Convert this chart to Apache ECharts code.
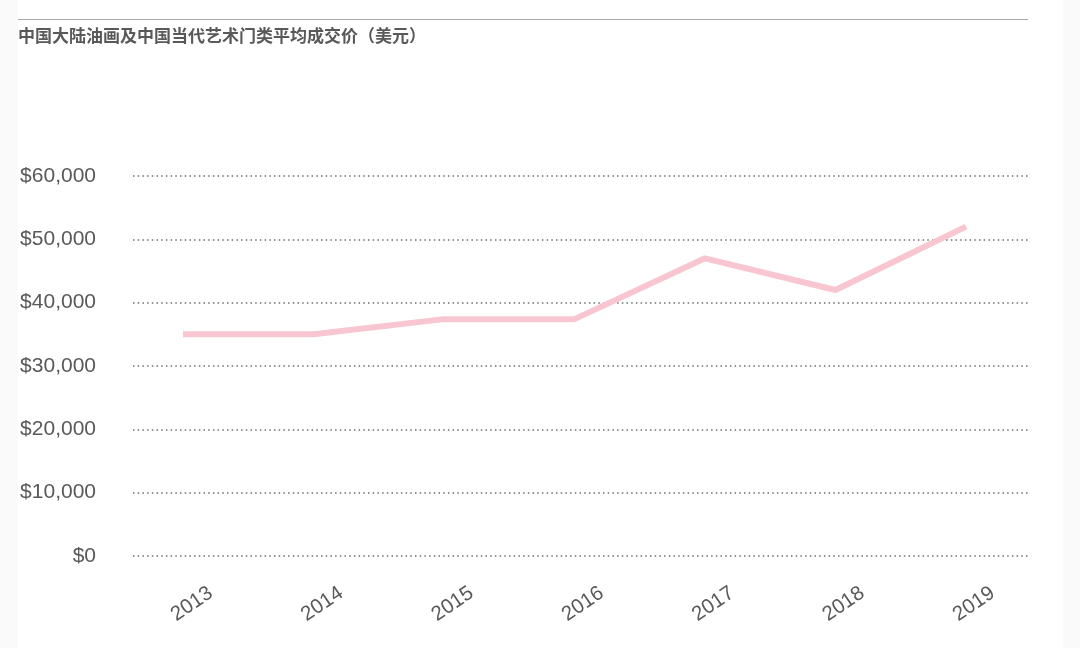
<!DOCTYPE html>
<html>
<head>
<meta charset="utf-8">
<script src="https://cdn.jsdelivr.net/npm/echarts@6/dist/echarts.min.js"></script>
<style>
html,body{margin:0;padding:0;background:#fafafa;}
#main{width:1080px;height:648px;}
</style>
</head>
<body>
<div id="main"></div>
<script>
const titleText = '中国大陆油画及中国当代艺术门类平均成交价（美元）';
const years = ['2013','2014','2015','2016','2017','2018','2019'];
const avgPrice = [35000, 35000, 37400, 37400, 47000, 42000, 52000];
const yTicks = [0, 10000, 20000, 30000, 40000, 50000, 60000];

const chart = echarts.init(document.getElementById('main'));
const yMin = yTicks[0], yMax = yTicks[yTicks.length - 1], yStep = yTicks[1] - yTicks[0];
const gridTop = 176, gridBottom = 648 - 556;

const option = {
  backgroundColor: 'transparent',
  animation: false,
  graphic: [
    { type: 'rect', z: -10, shape: { x: 18, y: 0, width: 1045, height: 648 }, style: { fill: '#ffffff' } },
    { type: 'line', shape: { x1: 18, y1: 19.5, x2: 1028, y2: 19.5 }, style: { stroke: '#a8a8a8', lineWidth: 1.2 } },
    { type: 'text', left: 18, top: 27, style: { text: titleText, fill: '#595959', font: 'bold 17px "Noto Sans CJK SC", sans-serif' } }
  ],
  grid: [
    { left: 133, right: 1080 - 1028, top: gridTop, bottom: gridBottom },
    { left: 183, right: 1080 - 966, top: gridTop, bottom: gridBottom },
    { left: 192, right: 1080 - 974, top: gridTop, bottom: gridBottom }
  ],
  xAxis: [
    { type: 'category', gridIndex: 0, data: years, show: false },
    { type: 'category', gridIndex: 1, data: years, boundaryGap: false, show: false },
    {
      type: 'category', gridIndex: 2, data: years, boundaryGap: false,
      axisLine: { show: false }, axisTick: { show: false },
      axisLabel: {
        rotate: 34, align: 'center', verticalAlign: 'middle', margin: 48,
        color: '#595959', fontSize: 20.5, fontFamily: 'Liberation Sans, Arial, sans-serif'
      }
    }
  ],
  yAxis: [
    {
      type: 'value', gridIndex: 0, min: yMin, max: yMax, interval: yStep,
      axisLine: { show: false }, axisTick: { show: false },
      axisLabel: {
        margin: 37, color: '#595959', fontSize: 21, fontFamily: 'Liberation Sans, Arial, sans-serif',
        padding: [4, 0, 0, 0],
        formatter: v => '$' + v.toLocaleString('en-US')
      },
      splitLine: { show: true, lineStyle: { color: '#6e6e6e', width: 1.5, type: [1.5, 3.2] } }
    },
    { type: 'value', gridIndex: 1, min: yMin, max: yMax, interval: yStep, show: false, splitLine: { show: false } },
    { type: 'value', gridIndex: 2, min: yMin, max: yMax, interval: yStep, show: false, splitLine: { show: false } }
  ],
  series: [
    {
      type: 'line', xAxisIndex: 1, yAxisIndex: 1, data: avgPrice,
      symbol: 'none', lineStyle: { color: '#f8c6d0', width: 6 }, z: 5
    }
  ]
};
chart.setOption(option);
</script>
</body>
</html>
